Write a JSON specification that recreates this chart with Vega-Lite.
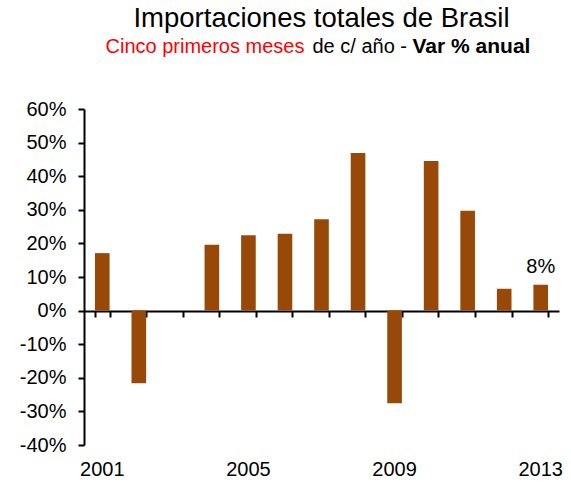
{
  "$schema": "https://vega.github.io/schema/vega-lite/v6.json",
  "width": 475,
  "height": 336,
  "autosize": {"type": "none"},
  "padding": {"left": 84, "top": 109, "right": 12, "bottom": 42},
  "background": "white",
  "config": {
    "view": {"stroke": null},
    "font": "Liberation Sans",
    "axis": {"grid": false}
  },
  "title": {
    "text": "Importaciones totales de Brasil",
    "fontSize": 27.5,
    "fontWeight": "normal",
    "color": "black",
    "anchor": "middle",
    "offset": 3
  },
  "data": {
    "values": [
      {"year": 2001, "value": 17.1},
      {"year": 2002, "value": -21.6},
      {"year": 2003, "value": 0},
      {"year": 2004, "value": 19.6},
      {"year": 2005, "value": 22.4},
      {"year": 2006, "value": 22.9},
      {"year": 2007, "value": 27.2},
      {"year": 2008, "value": 46.9},
      {"year": 2009, "value": -27.6},
      {"year": 2010, "value": 44.5},
      {"year": 2011, "value": 29.7},
      {"year": 2012, "value": 6.5},
      {"year": 2013, "value": 7.7, "label": "8%"}
    ]
  },
  "layer": [
    {
      "mark": {"type": "bar", "color": "#984807"},
      "encoding": {
        "x": {
          "field": "year",
          "type": "ordinal",
          "scale": {"paddingInner": 0.6, "paddingOuter": 0.3},
          "axis": {
            "orient": "bottom",
            "offset": 0,
            "values": [2001, 2005, 2009, 2013],
            "labelAngle": 0,
            "labelFontSize": 20,
            "labelColor": "black",
            "labelPadding": 14,
            "domain": false,
            "ticks": false,
            "title": "Cinco primeros meses",
            "titleColor": "#FF0000",
            "titleFontSize": 20,
            "titleFontWeight": "normal",
            "titleAlign": "left",
            "titleBaseline": "alphabetic",
            "titleAngle": 0,
            "titleX": 21,
            "titleY": -393
          }
        },
        "y": {
          "field": "value",
          "type": "quantitative",
          "scale": {"domain": [-40, 60], "nice": false, "zero": true},
          "axis": {
            "orient": "left",
            "values": [-40, -30, -20, -10, 0, 10, 20, 30, 40, 50, 60],
            "labelExpr": "datum.value + '%'",
            "labelFontSize": 20,
            "labelColor": "black",
            "labelPadding": 12,
            "domainColor": "black",
            "domainWidth": 2,
            "tickColor": "black",
            "tickWidth": 2,
            "tickSize": 6,
            "title": null
          }
        }
      }
    },
    {
      "transform": [{"filter": "datum.label != null"}],
      "mark": {"type": "text", "fontSize": 20, "color": "black", "baseline": "alphabetic", "dy": -12},
      "encoding": {
        "x": {
          "field": "year",
          "type": "ordinal",
          "axis": {
            "orient": "bottom",
            "offset": -134,
            "labels": false,
            "domain": true,
            "domainColor": "black",
            "domainWidth": 2,
            "ticks": true,
            "tickBand": "extent",
            "tickColor": "black",
            "tickWidth": 2,
            "tickSize": 6,
            "title": "de c/ año -",
            "titleColor": "black",
            "titleFontSize": 20,
            "titleFontWeight": "normal",
            "titleAlign": "left",
            "titleBaseline": "alphabetic",
            "titleAngle": 0,
            "titleX": 228,
            "titleY": -259
          }
        },
        "y": {
          "field": "value",
          "type": "quantitative",
          "axis": {
            "orient": "right",
            "labels": false,
            "ticks": false,
            "domain": false,
            "title": "Var % anual",
            "titleColor": "black",
            "titleFontSize": 21,
            "titleFontWeight": "bold",
            "titleAlign": "left",
            "titleBaseline": "alphabetic",
            "titleAngle": 0,
            "titleX": -147,
            "titleY": -57
          }
        },
        "text": {"field": "label"}
      }
    }
  ],
  "resolve": {"axis": {"x": "independent", "y": "independent"}}
}
